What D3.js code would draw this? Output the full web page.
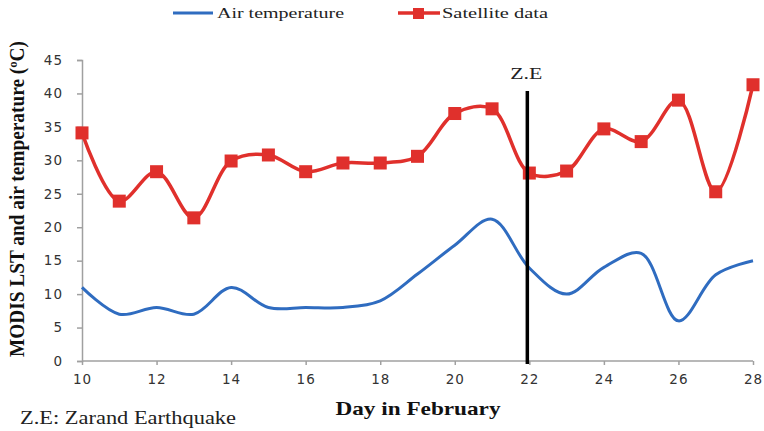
<!DOCTYPE html>
<html>
<head>
<meta charset="utf-8">
<script src="https://cdn.jsdelivr.net/npm/d3@7"></script>
<style>
  body { margin: 0; background: #fff; }
  svg { display: block; }
</style>
</head>
<body>
<svg id="chart" width="764" height="431"></svg>
<script>
// days in February
var days = [10, 11, 12, 13, 14, 15, 16, 17, 18, 19, 20, 21, 22, 23, 24, 25, 26, 27, 28];
var airTemp = [11, 7, 8, 7, 11, 8, 8, 8, 9, 13, 17.3, 21.2, 13.9, 10, 14, 16.1, 6, 12.9, 15];
var satellite = [34.1, 23.9, 28.3, 21.4, 29.9, 30.8, 28.3, 29.6, 29.6, 30.6, 37, 37.7, 28.1, 28.4, 34.7, 32.8, 39, 25.3, 41.3];
var xTicks = [10, 12, 14, 16, 18, 20, 22, 24, 26, 28];
var yTicks = [0, 5, 10, 15, 20, 25, 30, 35, 40, 45];
var quakeDay = 22;

var blue = "#2f6cc0",
    red = "#e0302c",
    axisGrey = "#a0a0a0";

var margin = {left: 82, right: 11, top: 60, bottom: 70},
    width = 764,
    height = 431;

var svg = d3.select("#chart");

var x = d3.scaleLinear().domain([10, 28]).range([margin.left, width - margin.right]);
var y = d3.scaleLinear().domain([0, 45]).range([361, 60]);

// axes
var yAxis = svg.append("g")
    .attr("transform", "translate(" + margin.left + ",0)")
    .call(d3.axisLeft(y).tickValues(yTicks).tickSize(5).tickPadding(14));

var xAxis = svg.append("g")
    .attr("transform", "translate(0," + y(0) + ")")
    .call(d3.axisBottom(x).tickValues(xTicks).tickSize(4).tickPadding(9));

[yAxis, xAxis].forEach(function(a) {
    a.select(".domain").attr("stroke", axisGrey).attr("stroke-width", 1.5);
    a.selectAll(".tick line").attr("stroke", axisGrey).attr("stroke-width", 1.5);
    a.selectAll(".tick text")
        .attr("fill", "#333")
        .style("font-family", "'DejaVu Sans', Verdana, sans-serif")
        .style("font-size", "13.5px")
        .style("letter-spacing", "1px");
});
xAxis.selectAll(".domain").attr("d", "M" + x(10) + ",0H" + x(28));

// lines
var line = function(vals) {
    return d3.line()
        .x(function(d, i) { return x(days[i]); })
        .y(function(d) { return y(d); })
        .curve(d3.curveCatmullRom.alpha(0.5))(vals);
};

svg.append("path")
    .attr("d", line(airTemp))
    .attr("fill", "none")
    .attr("stroke", blue)
    .attr("stroke-width", 3);

svg.append("path")
    .attr("d", line(satellite))
    .attr("fill", "none")
    .attr("stroke", red)
    .attr("stroke-width", 3.5);

svg.selectAll("rect.mark")
    .data(satellite)
    .enter().append("rect")
    .attr("class", "mark")
    .attr("x", function(d, i) { return x(days[i]) - 6.5; })
    .attr("y", function(d) { return y(d) - 6.5; })
    .attr("width", 13)
    .attr("height", 13)
    .attr("fill", red);

// earthquake marker
svg.append("line")
    .attr("x1", x(quakeDay) - 2).attr("x2", x(quakeDay) - 2)
    .attr("y1", 91).attr("y2", 364)
    .attr("stroke", "#000")
    .attr("stroke-width", 3.5);

svg.append("text")
    .attr("x", x(quakeDay) - 3)
    .attr("y", 79)
    .attr("text-anchor", "middle")
    .attr("textLength", 32)
    .attr("lengthAdjust", "spacingAndGlyphs")
    .style("font-family", "'Liberation Serif', serif")
    .style("font-size", "16px")
    .attr("fill", "#222")
    .text("Z.E");

// axis titles
svg.append("text")
    .attr("transform", "translate(24,199) rotate(-90)")
    .attr("text-anchor", "middle")
    .attr("textLength", 316)
    .attr("lengthAdjust", "spacingAndGlyphs")
    .style("font-family", "'Liberation Serif', serif")
    .style("font-weight", "bold")
    .style("font-size", "20px")
    .attr("fill", "#111")
    .text("MODIS LST and air temperature (ºC)");

svg.append("text")
    .attr("x", 418)
    .attr("y", 415)
    .attr("text-anchor", "middle")
    .attr("textLength", 165)
    .attr("lengthAdjust", "spacingAndGlyphs")
    .style("font-family", "'Liberation Serif', serif")
    .style("font-weight", "bold")
    .style("font-size", "19px")
    .attr("fill", "#111")
    .text("Day in February");

svg.append("text")
    .attr("x", 20)
    .attr("y", 424)
    .attr("textLength", 216)
    .attr("lengthAdjust", "spacingAndGlyphs")
    .style("font-family", "'Liberation Serif', serif")
    .style("font-size", "18px")
    .attr("fill", "#222")
    .text("Z.E: Zarand Earthquake");

// legend
var legend = svg.append("g").attr("class", "legend");
legend.append("line")
    .attr("x1", 173).attr("x2", 213).attr("y1", 13).attr("y2", 13)
    .attr("stroke", blue).attr("stroke-width", 3);
legend.append("text")
    .attr("x", 217).attr("y", 18)
    .attr("textLength", 127)
    .attr("lengthAdjust", "spacingAndGlyphs")
    .style("font-family", "'Liberation Serif', serif")
    .style("font-size", "15px")
    .attr("fill", "#222")
    .text("Air temperature");
legend.append("line")
    .attr("x1", 398).attr("x2", 440).attr("y1", 13).attr("y2", 13)
    .attr("stroke", red).attr("stroke-width", 3.5);
legend.append("rect")
    .attr("x", 413).attr("y", 8).attr("width", 11).attr("height", 11)
    .attr("fill", red);
legend.append("text")
    .attr("x", 442).attr("y", 18)
    .attr("textLength", 106)
    .attr("lengthAdjust", "spacingAndGlyphs")
    .style("font-family", "'Liberation Serif', serif")
    .style("font-size", "15px")
    .attr("fill", "#222")
    .text("Satellite data");
</script>
</body>
</html>
